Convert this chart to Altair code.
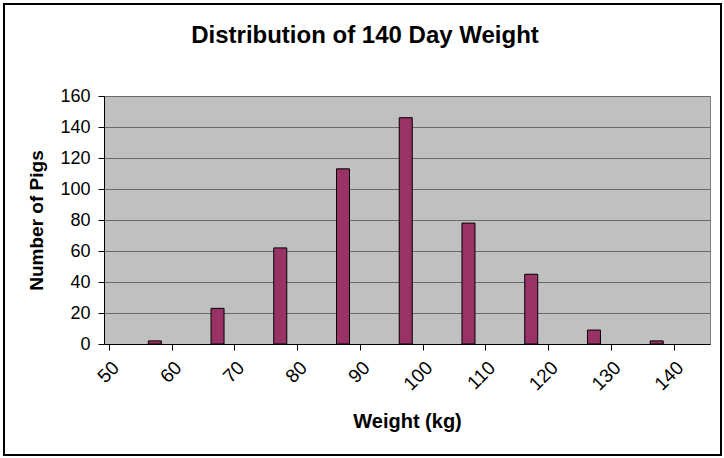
import altair as alt
import pandas as pd

weights = [57.3, 67.3, 77.3, 87.3, 97.3, 107.3, 117.3, 127.3, 137.3]
counts = [2, 23, 62, 113, 146, 78, 45, 9, 2]
x_ticks = [50, 60, 70, 80, 90, 100, 110, 120, 130, 140]
y_ticks = [0, 20, 40, 60, 80, 100, 120, 140, 160]

df = pd.DataFrame({"weight": weights, "pigs": counts})
FONT = "Liberation Sans"

bars = alt.Chart(df).mark_bar(
    size=13, color="#993366", stroke="black", strokeWidth=1
).encode(
    x=alt.X(
        "weight:Q",
        scale=alt.Scale(domain=[50, 145], nice=False, zero=False),
        axis=alt.Axis(
            values=x_ticks, title="Weight (kg)", grid=False,
            labelAngle=-45, labelAlign="right", labelBaseline="top",
            labelPadding=8, tickSize=6, tickColor="black", domainColor="black",
            labelFont=FONT, labelFontSize=19, labelColor="black",
            titleFont=FONT, titleFontSize=20, titleFontWeight="bold", titleColor="black",
            titleX=303, titleY=77, titleBaseline="middle", titleAlign="center",
        ),
    ),
    y=alt.Y(
        "pigs:Q",
        scale=alt.Scale(domain=[0, 160], nice=False),
        axis=alt.Axis(
            values=y_ticks, title="Number of Pigs", grid=True, gridColor="#6a6a6a",
            tickSize=6, tickColor="black", domainColor="black", labelPadding=8,
            labelFont=FONT, labelFontSize=18, labelColor="black",
            titleFont=FONT, titleFontSize=19, titleFontWeight="bold", titleColor="black",
            titleX=-68, titleY=124, titleBaseline="middle", titleAlign="center", titleAngle=-90,
        ),
    ),
)

frame = alt.Chart(pd.DataFrame({"k": [0]})).mark_rect(
    fill="transparent", stroke="black", strokeWidth=2, clip=False
).encode(
    x=alt.value(-100), x2=alt.value(617), y=alt.value(-92), y2=alt.value(359)
)

chart = alt.layer(bars, frame).properties(
    width=606,
    height=248,
    title=alt.TitleParams(
        "Distribution of 140 Day Weight", font=FONT, fontSize=24, fontWeight="bold",
        color="black", anchor="middle", frame="group", dx=-42, offset=0, dy=64,
        baseline="alphabetic",
    ),
    autosize=alt.AutoSizeParams(type="none"),
    padding={"left": 104, "top": 96, "right": 14, "bottom": 114},
    background="white",
).configure_view(
    fill="#C0C0C0", stroke="#808080", strokeWidth=1
)

chart.save("out.html", embed_options={"renderer": "svg", "actions": False})
